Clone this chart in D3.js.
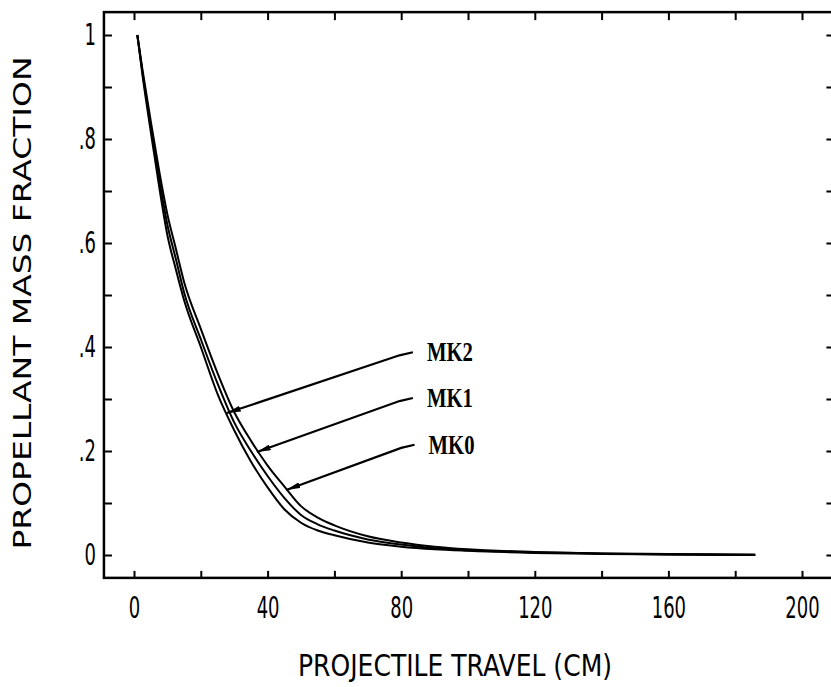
<html>
    <head>
        <title>Propellant mass fraction vs projectile travel</title>
        <script type="text/javascript" src="https://cdn.jsdelivr.net/npm/d3@7"></script>
        <style type="text/css">
            body { margin: 0; background: #fff; }
        </style>
    </head>
    <body>
        <script type="text/javascript">

            // projectile travel (cm) shared by the three curves
            var travelCm = [1, 2.5, 5, 7.5, 10, 12.5, 15, 20, 25, 30, 35, 40, 45, 50, 55, 60, 70, 80, 90, 100, 120, 140, 160, 186];

            // propellant mass fraction
            var mk0 = [1.0, 0.935, 0.835, 0.74, 0.655, 0.59, 0.525, 0.435, 0.35, 0.275, 0.22, 0.172, 0.132, 0.094, 0.072, 0.057, 0.036, 0.024, 0.016, 0.011, 0.006, 0.003, 0.002, 0.001];
            var mk1 = [1.0, 0.93, 0.825, 0.725, 0.635, 0.57, 0.505, 0.415, 0.33, 0.255, 0.2, 0.152, 0.11, 0.077, 0.059, 0.047, 0.03, 0.02, 0.013, 0.009, 0.005, 0.003, 0.001, 0.0];
            var mk2 = [1.0, 0.925, 0.815, 0.71, 0.615, 0.55, 0.49, 0.40, 0.31, 0.24, 0.18, 0.13, 0.088, 0.062, 0.047, 0.038, 0.024, 0.016, 0.011, 0.008, 0.004, 0.002, 0.001, 0.0];

            // labels and where their leader arrows touch the curves
            var seriesNames = ['MK2', 'MK1', 'MK0'];
            var arrowTipCm = [27.8, 36.8, 45.6];
            var arrowTipFrac = [0.273, 0.198, 0.125];
            var labelCm = [83.5, 83.5, 84];
            var labelFrac = [0.39, 0.302, 0.212];

            var xTicks = [0, 20, 40, 60, 80, 100, 120, 140, 160, 180, 200];
            var xLabelTicks = [0, 40, 80, 120, 160, 200];
            var yTicks = [0, 0.1, 0.2, 0.3, 0.4, 0.5, 0.6, 0.7, 0.8, 0.9, 1.0];
            var yLabelTicks = [0, 0.2, 0.4, 0.6, 0.8, 1.0];

            var width = 831, height = 687;
            var squeeze = 0.6;   // narrow plotter-style digits

            var svg = d3.select('body')
                .append('svg')
                    .attr('width', width)
                    .attr('height', height);

            var x = d3.scaleLinear().domain([0, 200]).range([134, 802]);
            var y = d3.scaleLinear().domain([0, 1]).range([555, 35]);

            // frame extents in data units (right edge runs just past the page)
            var xMin = -9.0, xMax = 210, yMin = -0.044, yMax = 1.044;
            var frameL = x(xMin), frameR = x(xMax), frameT = y(yMax), frameB = y(yMin);

            svg.append('rect')
                .attr('x', frameL).attr('y', frameT)
                .attr('width', frameR - frameL).attr('height', frameB - frameT)
                .attr('fill', 'none').attr('stroke', '#000').attr('stroke-width', 2.5);

            function fmtX(d) { return xLabelTicks.indexOf(d) >= 0 ? String(d) : ''; }
            function fmtY(d) {
                var r = Math.round(d * 10) / 10;
                if (yLabelTicks.indexOf(r) < 0) return '';
                if (r === 0) return '0';
                if (r === 1) return '1';
                return '.' + Math.round(r * 10);
            }

            function styleAxis(g) {
                g.select('.domain').remove();
                g.selectAll('line').attr('stroke', '#000').attr('stroke-width', 2);
                g.selectAll('text')
                    .attr('fill', '#000')
                    .style('font-family', 'DejaVu Sans, sans-serif')
                    .style('font-size', '30px')
                    .each(function () {
                        var t = d3.select(this);
                        var x0 = +t.attr('x') || 0;
                        t.attr('x', x0 / squeeze).attr('transform', 'scale(' + squeeze + ',1)');
                    });
            }

            // bottom axis
            svg.append('g')
                .attr('transform', 'translate(0,' + frameB + ')')
                .call(d3.axisBottom(x).tickValues(xTicks).tickSize(-7).tickPadding(19).tickFormat(fmtX))
                .call(styleAxis);

            // top axis, ticks only
            svg.append('g')
                .attr('transform', 'translate(0,' + frameT + ')')
                .call(d3.axisTop(x).tickValues(xTicks).tickSize(-8).tickFormat(''))
                .call(styleAxis);

            // left axis
            svg.append('g')
                .attr('transform', 'translate(' + frameL + ',0)')
                .call(d3.axisLeft(y).tickValues(yTicks).tickSize(-8).tickPadding(8).tickFormat(fmtY))
                .call(styleAxis);

            // right axis, ticks only
            svg.append('g')
                .attr('transform', 'translate(' + frameR + ',0)')
                .call(d3.axisRight(y).tickValues(yTicks).tickSize(-9).tickFormat(''))
                .call(styleAxis);

            // axis titles
            svg.append('text')
                .attr('x', 455).attr('y', 676)
                .attr('text-anchor', 'middle')
                .attr('textLength', 314).attr('lengthAdjust', 'spacingAndGlyphs')
                .style('font-family', 'DejaVu Sans, sans-serif')
                .style('font-size', '30px')
                .text('PROJECTILE TRAVEL (CM)');

            svg.append('text')
                .attr('transform', 'translate(31,303) rotate(-90)')
                .attr('text-anchor', 'middle')
                .attr('textLength', 493).attr('lengthAdjust', 'spacingAndGlyphs')
                .style('font-family', 'DejaVu Sans, sans-serif')
                .style('font-size', '25px')
                .text('PROPELLANT MASS FRACTION');

            // curves
            var line = d3.line()
                .x(function (d) { return x(d[0]); })
                .y(function (d) { return y(d[1]); })
                .curve(d3.curveMonotoneX);

            [mk0, mk1, mk2].forEach(function (vals) {
                svg.append('path')
                    .datum(travelCm.map(function (t, i) { return [t, vals[i]]; }))
                    .attr('d', line)
                    .attr('fill', 'none')
                    .attr('stroke', '#000')
                    .attr('stroke-width', 2);
            });

            // leader arrows
            svg.append('defs').append('marker')
                .attr('id', 'head')
                .attr('viewBox', '0 0 14 6')
                .attr('refX', 14).attr('refY', 3)
                .attr('markerWidth', 14).attr('markerHeight', 6)
                .attr('markerUnits', 'userSpaceOnUse')
                .attr('orient', 'auto')
                .append('path')
                    .attr('d', 'M0,0 L14,3 L0,6 Z')
                    .attr('fill', '#000');

            seriesNames.forEach(function (name, i) {
                var pts = [
                    [labelCm[i], labelFrac[i]],
                    [labelCm[i] - 4, labelFrac[i] - 0.006],
                    [arrowTipCm[i], arrowTipFrac[i]]
                ];
                svg.append('path')
                    .attr('d', d3.line().x(function (d) { return x(d[0]); }).y(function (d) { return y(d[1]); })(pts))
                    .attr('fill', 'none')
                    .attr('stroke', '#000')
                    .attr('stroke-width', 2.2)
                    .attr('marker-end', 'url(#head)');

                svg.append('text')
                    .attr('x', x(labelCm[i]) + 14)
                    .attr('y', y(labelFrac[i]) + 9)
                    .attr('textLength', 46).attr('lengthAdjust', 'spacingAndGlyphs')
                    .style('font-family', 'Liberation Serif, serif')
                    .style('font-weight', 'bold')
                    .style('font-size', '27px')
                    .text(name);
            });

        </script>
    </body>
</html>
